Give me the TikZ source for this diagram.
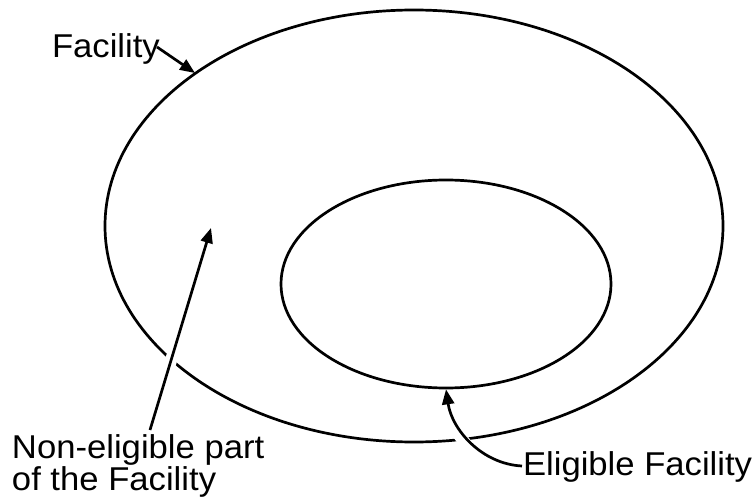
\documentclass[tikz,border=0pt]{standalone}
\usepackage{fontspec}
\setmainfont{Liberation Sans}[FakeStretch=1.05]
\usetikzlibrary{arrows.meta,shapes.geometric}
\begin{document}
\begin{tikzpicture}[x=1pt,y=-1pt,
  ring/.style={draw,ellipse,line width=2.7pt,inner sep=0pt},
  lbl/.style={font=\fontsize{33}{32}\selectfont,inner sep=0pt,outer sep=0pt},
  arr/.style={line width=2.7pt,-{Triangle[length=15pt,width=12pt]}},
  halo/.style={draw=white,line width=12pt}
]
\useasboundingbox (0,0) rectangle (753,503);
\node[ring,minimum width=618pt,minimum height=432pt] (outer) at (414,226) {};
\node[ring,minimum width=330pt,minimum height=208pt] (inner) at (446,284) {};

\node[lbl,anchor=base west] (fac) at (52,58) {Facility};
\node[lbl,anchor=base west,align=left] (non) at (12,490) {Non-eligible part\\of the Facility};
\node[lbl,anchor=base west] (elig) at (523,475) {Eligible Facility};

\coordinate (fs) at (157,47);
\coordinate (ft) at (195,73);
\coordinate (ns) at (150,430);
\coordinate (nt) at (211,228);
\coordinate (es) at (522,466);
\coordinate (ec1) at (482,464);
\coordinate (ec2) at (452,430);

\draw[halo,shorten <=50pt,shorten >=100pt] (ns) -- (nt);
\draw[halo,shorten <=35pt,shorten >=30pt] (es) .. controls (ec1) and (ec2) .. (inner.south);

\draw[arr] (fs) -- (ft);
\draw[arr] (ns) -- (nt);
\draw[arr] (es) .. controls (ec1) and (ec2) .. (inner.south);
\end{tikzpicture}
\end{document}
